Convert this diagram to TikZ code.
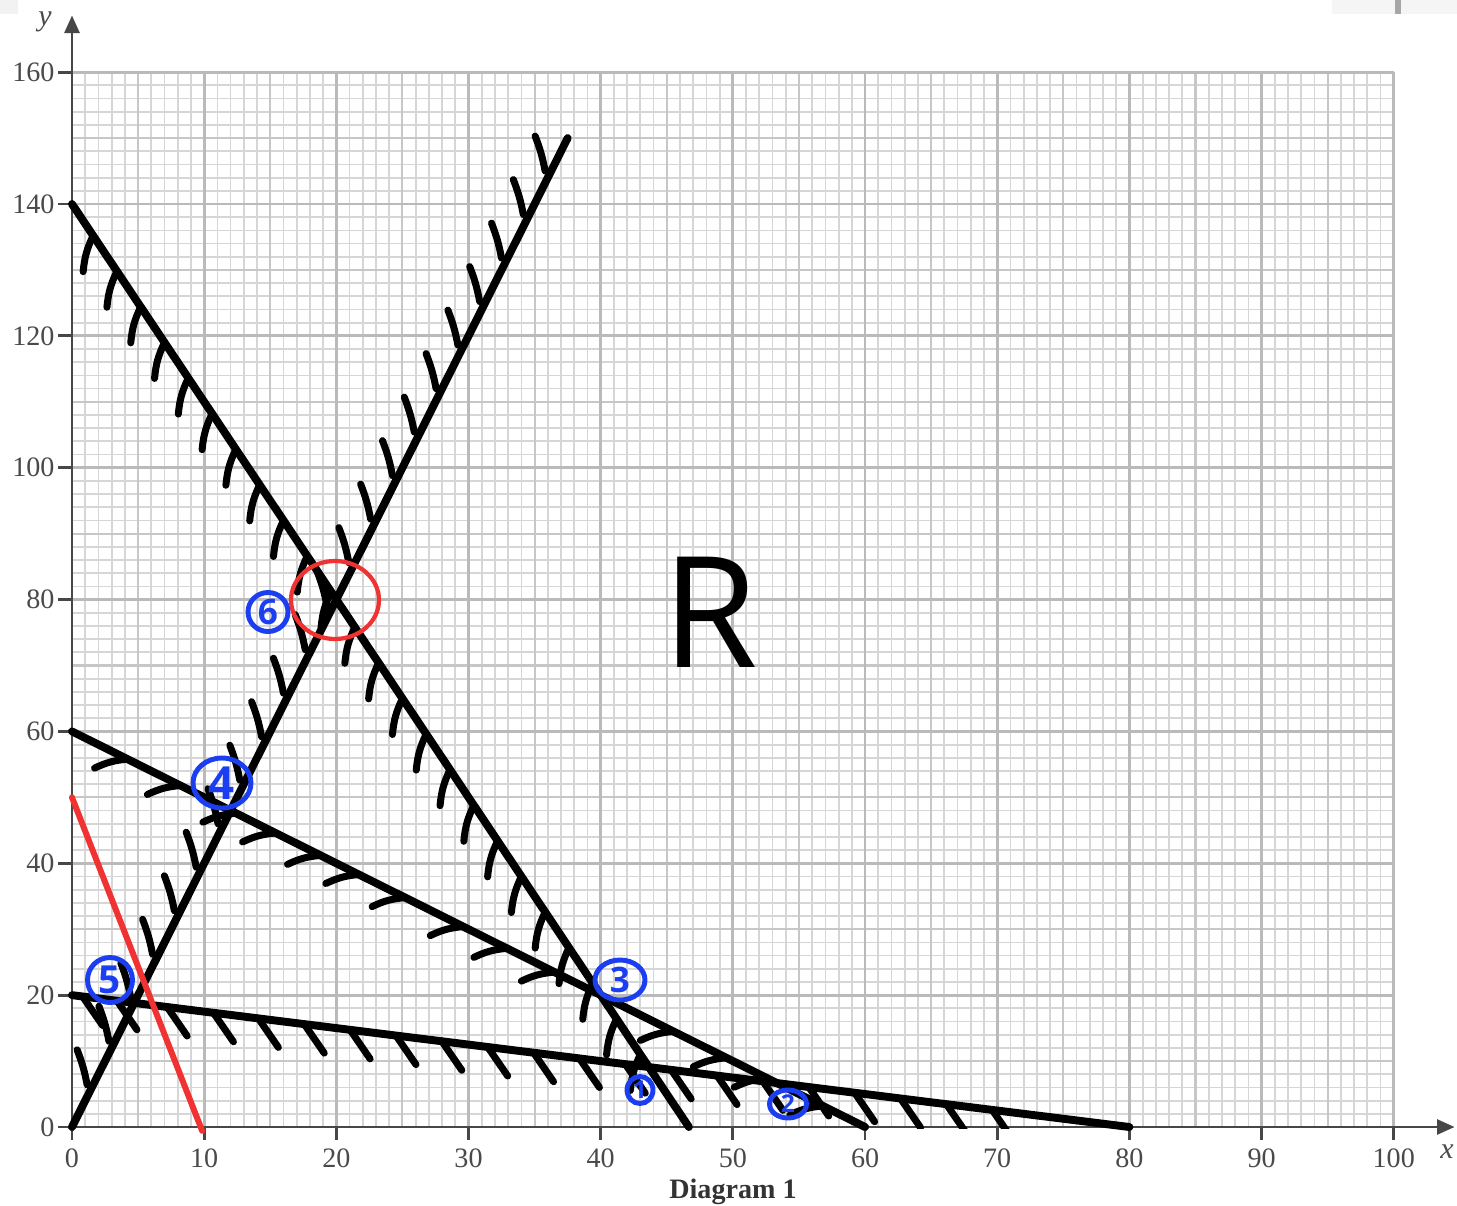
\documentclass[tikz,border=0pt]{standalone}
\usepackage{fontspec}
\setmainfont{Liberation Serif}
\newfontfamily\handfont{Open Sans}
\usetikzlibrary{arrows.meta,shapes.geometric}
\definecolor{penblue}{HTML}{1B3FF0}
\definecolor{penred}{HTML}{F03232}
\definecolor{axisgray}{HTML}{474747}
\definecolor{labelgray}{HTML}{4A4A4A}
\tikzset{
  gminor/.style={draw=black!16, line width=1.0pt},
  gmid/.style={draw=black!22, line width=1.2pt},
  gmajor/.style={draw=black!27, line width=1.6pt},
  axisline/.style={draw=axisgray, line width=1.6pt},
  axisarrow/.style={axisline, -{Triangle[length=10pt,width=8.5pt]}},
  bline/.style={draw=black, line width=4.5pt, line cap=round},
  hatchstroke/.style={draw=black, line width=4pt, line cap=round},
  redline/.style={draw=penred, line width=3.4pt, line cap=round},
  redring/.style={draw=penred, line width=2.4pt},
  bluenum/.style={ellipse, draw=penblue, line width=2.8pt, text=penblue, inner sep=0pt},
  ticklabel/.style={text=labelgray, font=\fontsize{16}{18}\selectfont, inner sep=0pt},
}
\begin{document}
\begin{tikzpicture}[x=0.02cm,y=-0.02cm]
\useasboundingbox (0,0) rectangle (1457,1206);
\fill[white] (0,0) rectangle (1457,1206);
\fill[black!5] (0,0) rectangle (18,14);
\fill[black!4] (1332,0) rectangle (1457,14);
\fill[black!35] (1395,0) rectangle (1401,14);

\begin{scope}[shift={(72,1127)}, x=0.2644cm, y=0.13188cm]
  % grid
  \draw[gminor] (0,0) grid[xstep=1,ystep=2] (100,160);
  \draw[gmid] (0,0) grid[xstep=5,ystep=10] (100,160);
  \draw[gmajor] (0,0) grid[xstep=10,ystep=20] (100,160);
  % axes
  \coordinate (O) at (0,0);
  \coordinate (xend) at (104.6,0);
  \coordinate (yend) at (0,168.6);
  \draw[axisarrow] (O) -- (xend);
  \draw[axisarrow] (O) -- (yend);
  \foreach \i in {0,10,...,100}{
    \draw[axisline] (\i,0) -- ++(0cm,-0.26cm);
    \node[ticklabel] (xt\i) at (\i,-4.7) {\i};
  }
  \foreach \j in {0,20,...,160}{
    \draw[axisline] (0,\j) -- ++(-0.28cm,0cm);
    \node[ticklabel,anchor=east] (yt\j) at (-1.3,\j) {\j};
  }
  % boundary lines
  \coordinate (A0) at (0,0);   \coordinate (A1) at (37.5,150);
  \coordinate (B0) at (0,140); \coordinate (B1) at (46.67,0);
  \coordinate (C0) at (0,60);  \coordinate (C1) at (60,0);
  \coordinate (D0) at (0,20);  \coordinate (D1) at (80,0);
  \coordinate (E0) at (0,50);  \coordinate (E1) at (9.85,-0.6);
  % hatching on y = 4x
  \foreach \k in {0,...,21}{
    \pgfmathsetmacro\t{1.6+1.65*\k}
    \draw[hatchstroke] (\t,{4*\t}) ++(-0.12cm,0cm) to[bend right=5] ++(-0.2cm,0.7cm);
  }
  % hatching on y = 140 - 3x
  \foreach \k in {0,...,23}{
    \pgfmathsetmacro\t{1.6+1.8*\k}
    \draw[hatchstroke] (\t,{140-3*\t}) to[bend right=10] ++(-0.2cm,-0.72cm);
  }
  % hatching on y = 60 - x
  \foreach \t in {4.2,8.2,12.4,15.4,18.8,21.7,25.2,29.6,32.9,36.5,45.5,49.5,52.6,56.8}{
    \draw[hatchstroke] (\t,{60-\t}) to[bend right=10] ++(-0.66cm,-0.18cm);
  }
  % hatching on y = 20 - x/4
  \begin{scope}
    \clip (-3,-0.2) rectangle (100,30);
    \foreach \t in {0.8,3.4,7.2,10.7}{
      \draw[hatchstroke] (\t,{20-\t/4}) -- ++(0.4cm,-0.58cm);
    }
    \foreach \k in {0,...,16}{
      \pgfmathsetmacro\t{14.1+3.47*\k}
      \draw[hatchstroke] (\t,{20-\t/4}) -- ++(0.4cm,-0.58cm);
    }
  \end{scope}
  \draw[bline] (A0) -- (A1);
  \draw[bline] (B0) -- (B1);
  \draw[bline] (C0) -- (C1);
  \draw[bline] (D0) -- (D1);
  \draw[redline] (E0) -- (E1);
\end{scope}

% axis letters and caption
\node[font=\itshape\fontsize{17}{19}\selectfont, text=labelgray, inner sep=0pt] (xlab) at (1447,1152) {x};
\node[font=\itshape\fontsize{17}{19}\selectfont, text=labelgray, inner sep=0pt] (ylab) at (45,22) {y};
\node[font=\bfseries\fontsize{16}{18}\selectfont, text=black!80, inner sep=0pt] (cap) at (733,1192) {Diagram 1};

% red ring
\draw[redring] (335,600) ellipse [x radius=0.88cm, y radius=0.78cm];

% blue numbered marks
\node[bluenum, minimum width=0.52cm, minimum height=0.54cm, font=\handfont\bfseries\fontsize{14}{15}\selectfont] (n1) at (640,1090) {1};
\node[bluenum, minimum width=0.74cm, minimum height=0.56cm, font=\handfont\bfseries\fontsize{14}{15}\selectfont] (n2) at (788,1104) {2};
\node[bluenum, minimum width=1.0cm, minimum height=0.8cm, font=\handfont\bfseries\fontsize{20}{21}\selectfont] (n3) at (620,980) {3};
\node[bluenum, minimum width=1.16cm, minimum height=1.0cm, font=\handfont\bfseries\fontsize{26}{27}\selectfont] (n4) at (222,783) {4};
\node[bluenum, minimum width=0.9cm, minimum height=0.9cm, font=\handfont\bfseries\fontsize{22}{24}\selectfont] (n5) at (110,980) {5};
\node[bluenum, minimum width=0.8cm, minimum height=0.78cm, font=\handfont\bfseries\fontsize{20}{21}\selectfont] (n6) at (268,612) {6};

% region label
\node[font=\handfont\fontsize{88}{90}\selectfont, inner sep=0pt] (R) at (710,612) {R};
\end{tikzpicture}
\end{document}
